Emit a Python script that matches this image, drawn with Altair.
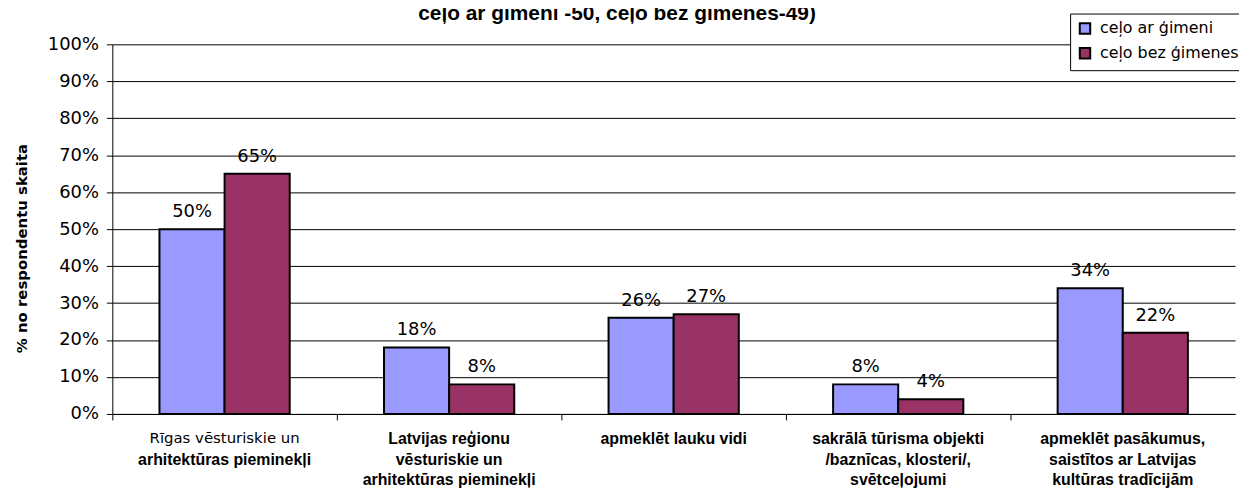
import json
import altair as alt
import pandas as pd

# ---- data ----
categories = [
    "Rīgas vēsturiskie un arhitektūras pieminekļi",
    "Latvijas reģionu vēsturiskie un arhitektūras pieminekļi",
    "apmeklēt lauku vidi",
    "sakrālā tūrisma objekti /baznīcas, klosteri/, svētceļojumi",
    "apmeklēt pasākumus, saistītos ar Latvijas kultūras tradīcijām",
]
label_normal = [["Rīgas vēsturiskie un"], [""], [""], [""], [""]]
label_bold = [
    ["\u00a0", "arhitektūras pieminekļi"],
    ["Latvijas reģionu", "vēsturiskie un", "arhitektūras pieminekļi"],
    ["apmeklēt lauku vidi"],
    ["sakrālā tūrisma objekti", "/baznīcas, klosteri/,", "svētceļojumi"],
    ["apmeklēt pasākumus,", "saistītos ar Latvijas", "kultūras tradīcijām"],
]
series = ["ceļo ar ģimeni", "ceļo bez ģimenes"]
with_family = [0.50, 0.18, 0.26, 0.08, 0.34]
without_family = [0.65, 0.08, 0.27, 0.04, 0.22]
colors = ["#9999FF", "#993366"]
y_ticks = [0, 0.1, 0.2, 0.3, 0.4, 0.5, 0.6, 0.7, 0.8, 0.9, 1.0]
title_text = "ceļo ar ģimeni -50, ceļo bez ģimenes-49)"
y_title = "% no respondentu skaita"

rows = []
for c, a, b in zip(categories, with_family, without_family):
    rows.append({"category": c, "series": series[0], "value": a})
    rows.append({"category": c, "series": series[1], "value": b})
df = pd.DataFrame(rows)

cats_js = json.dumps(categories, ensure_ascii=False)
bold_expr = f"{json.dumps(label_bold, ensure_ascii=False)}[indexof({cats_js}, datum.value)]"
normal_expr = f"{json.dumps(label_normal, ensure_ascii=False)}[indexof({cats_js}, datum.value)]"

xscale = alt.Scale(paddingInner=0.42, paddingOuter=0.21)
yscale = alt.Scale(domain=[0, 1])

y_axis = alt.Axis(
    values=y_ticks, format=".0%", labelFont="DejaVu Sans", labelFontSize=18,
    labelColor="black", tickColor="black", tickSize=6, labelPadding=8,
    domainColor="black", domainWidth=1,
    gridColor="black", gridWidth=1,
    title=y_title, titleFont="DejaVu Sans", titleFontSize=15, titleFontWeight="bold",
    titleColor="black", titleAngle=270, titleX=-91, titleY=205,
    titleAlign="center", titleBaseline="middle",
)

axis_ticks = alt.Axis(
    orient="bottom", title=None, labels=False, grid=False, bandPosition=-0.362,
    tickColor="black", tickSize=6, domainColor="black", domainWidth=1,
)
axis_bold = alt.Axis(
    orient="bottom", title=None, grid=False, domain=False, ticks=False,
    labelExpr=bold_expr, labelAngle=0, labelAlign="center", labelBaseline="top",
    labelFont="Liberation Sans", labelFontWeight="bold",
    labelFontSize=16, labelLineHeight=20.5, labelColor="black",
    labelPadding=17, labelLimit=400,
)
axis_normal = alt.Axis(
    orient="bottom", title=None, grid=False, domain=False, ticks=False,
    labelExpr=normal_expr, labelAngle=0, labelAlign="center", labelBaseline="top",
    labelFont="DejaVu Sans", labelFontWeight="normal",
    labelFontSize=15, labelLineHeight=20.5, labelColor="black",
    labelPadding=17, labelLimit=400,
)

xoff = alt.XOffset("series:N", sort=series, scale=alt.Scale(paddingInner=0))

bars = alt.Chart(df).mark_bar(stroke="black", strokeWidth=2).encode(
    x=alt.X("category:N", sort=categories, scale=xscale, axis=axis_ticks),
    xOffset=xoff,
    y=alt.Y("value:Q", scale=yscale, axis=y_axis),
    color=alt.Color(
        "series:N", sort=series,
        scale=alt.Scale(domain=series, range=colors),
        legend=alt.Legend(
            title=None, orient="none", legendX=964, legendY=-31, direction="vertical",
            strokeColor="black", fillColor="white", padding=7,
            labelFont="DejaVu Sans", labelFontSize=16, labelColor="black",
            symbolType="square", symbolSize=110, symbolStrokeWidth=2,
            symbolStrokeColor="black", symbolOpacity=1, rowPadding=5, labelOffset=7,
        ),
    ),
)

labels = alt.Chart(df).mark_text(
    dy=-12, baseline="alphabetic", font="DejaVu Sans", fontSize=18, color="black"
).encode(
    x=alt.X("category:N", sort=categories, scale=xscale, axis=axis_bold),
    xOffset=xoff,
    y=alt.Y("value:Q", scale=yscale, axis=y_axis),
    text=alt.Text("value:Q", format=".0%"),
)

normal_layer = alt.Chart(df).mark_text(opacity=0, text=" ").encode(
    x=alt.X("category:N", sort=categories, scale=xscale, axis=axis_normal),
    y=alt.Y("value:Q", scale=yscale, axis=y_axis),
)

chart = (
    alt.layer(bars, labels, normal_layer)
    .resolve_axis(x="independent", y="shared")
    .properties(
        width=1130, height=372,
        autosize="none",
        padding={"left": 105, "top": 35, "right": 4, "bottom": 80},
        title=alt.TitleParams(
            text=title_text, font="Liberation Sans", fontSize=21, fontWeight="bold",
            color="black", anchor="middle", dx=-57, offset=-11,
        ),
    )
    .configure_view(stroke=None)
)

chart.save("out.html", embed_options={"renderer": "svg", "actions": False})
